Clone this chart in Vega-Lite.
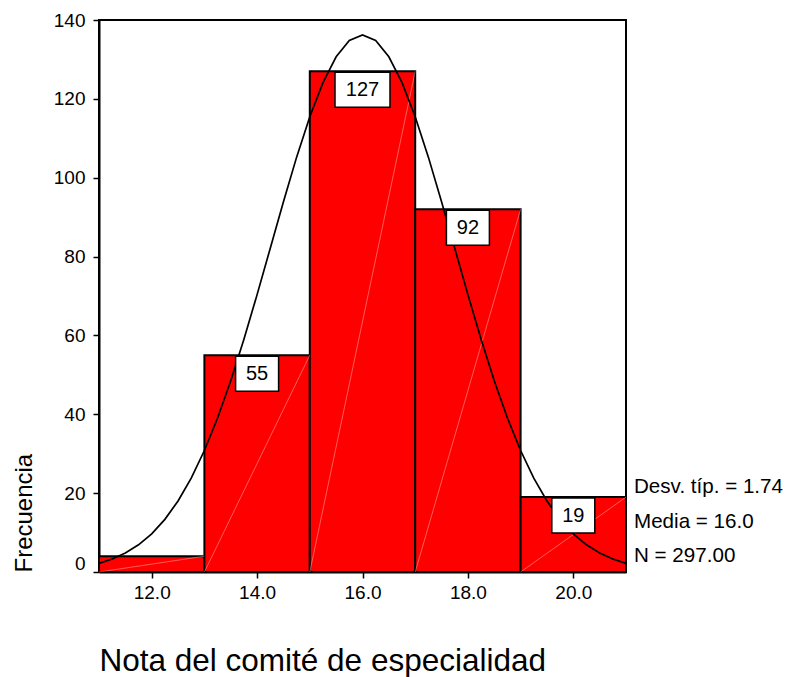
{
  "$schema": "https://vega.github.io/schema/vega-lite/v6.json",
  "width": 527,
  "height": 552,
  "autosize": "none",
  "padding": {"left": 99, "top": 20, "right": 161, "bottom": 105},
  "background": "white",
  "config": {
    "font": "Liberation Sans",
    "view": {"stroke": "black", "strokeWidth": 2},
    "axis": {
      "grid": false,
      "domainColor": "black",
      "domainWidth": 2,
      "tickColor": "black",
      "tickWidth": 1.5,
      "tickSize": 6,
      "labelColor": "black",
      "titleColor": "black",
      "labelFont": "Liberation Sans",
      "titleFont": "Liberation Sans",
      "labelFontSize": 19,
      "titleFontWeight": "normal"
    }
  },
  "datasets": {
    "hist": [
      {"lo": 11, "hi": 13, "nota": 12, "frecuencia": 4},
      {"lo": 13, "hi": 15, "nota": 14, "frecuencia": 55},
      {"lo": 15, "hi": 17, "nota": 16, "frecuencia": 127},
      {"lo": 17, "hi": 19, "nota": 18, "frecuencia": 92},
      {"lo": 19, "hi": 21, "nota": 20, "frecuencia": 19}
    ],
    "normal": [
      {"x": 11, "y": 2.19}, {"x": 11.25, "y": 3.28}, {"x": 11.5, "y": 4.81}, {"x": 11.75, "y": 6.9},
      {"x": 12, "y": 9.69}, {"x": 12.25, "y": 13.35}, {"x": 12.5, "y": 18.01}, {"x": 12.75, "y": 23.8},
      {"x": 13, "y": 30.81}, {"x": 13.25, "y": 39.06}, {"x": 13.5, "y": 48.51}, {"x": 13.75, "y": 59.02},
      {"x": 14, "y": 70.35}, {"x": 14.25, "y": 82.13}, {"x": 14.5, "y": 93.92}, {"x": 14.75, "y": 105.22},
      {"x": 15, "y": 115.46}, {"x": 15.25, "y": 124.11}, {"x": 15.5, "y": 130.68}, {"x": 15.75, "y": 134.79},
      {"x": 16, "y": 136.19},
      {"x": 16.25, "y": 134.79}, {"x": 16.5, "y": 130.68}, {"x": 16.75, "y": 124.11}, {"x": 17, "y": 115.46},
      {"x": 17.25, "y": 105.22}, {"x": 17.5, "y": 93.92}, {"x": 17.75, "y": 82.13}, {"x": 18, "y": 70.35},
      {"x": 18.25, "y": 59.02}, {"x": 18.5, "y": 48.51}, {"x": 18.75, "y": 39.06}, {"x": 19, "y": 30.81},
      {"x": 19.25, "y": 23.8}, {"x": 19.5, "y": 18.01}, {"x": 19.75, "y": 13.35}, {"x": 20, "y": 9.69},
      {"x": 20.25, "y": 6.9}, {"x": 20.5, "y": 4.81}, {"x": 20.75, "y": 3.28}, {"x": 21, "y": 2.19}
    ]
  },
  "layer": [
    {
      "data": {"name": "hist"},
      "mark": {"type": "rect", "fill": "#ff0000", "stroke": "black", "strokeWidth": 2},
      "encoding": {
        "x": {
          "field": "lo", "type": "quantitative",
          "scale": {"domain": [11, 21], "nice": false, "zero": false},
          "axis": {
            "values": [12, 14, 16, 18, 20], "format": ".1f",
            "title": "Nota del comité de especialidad",
            "titleFontSize": 31.5, "titleAnchor": "start", "titlePadding": 43,
            "labelPadding": 5, "labelFontSize": 19
          }
        },
        "x2": {"field": "hi"},
        "y": {
          "field": "frecuencia", "type": "quantitative",
          "scale": {"domain": [0, 140], "nice": false},
          "axis": {
            "values": [0, 20, 40, 60, 80, 100, 120, 140],
            "title": "Frecuencia",
            "titleFontSize": 24, "titleAnchor": "start", "titlePadding": 17,
            "labelPadding": 8, "labelFontSize": 19,
            "labelOffset": {"condition": {"test": "datum.value === 0", "value": -9}, "value": 0}
          }
        },
        "y2": {"datum": 0}
      }
    },
    {
      "data": {"name": "hist"},
      "mark": {"type": "rule", "stroke": "white", "strokeWidth": 0.8, "opacity": 0.45},
      "encoding": {
        "x": {"field": "hi", "type": "quantitative"},
        "x2": {"field": "lo"},
        "y": {"field": "frecuencia", "type": "quantitative"},
        "y2": {"datum": 0}
      }
    },
    {
      "data": {"name": "normal"},
      "mark": {"type": "line", "color": "black", "strokeWidth": 1.7},
      "encoding": {
        "x": {"field": "x", "type": "quantitative"},
        "y": {"field": "y", "type": "quantitative"}
      }
    },
    {
      "data": {"name": "hist"},
      "transform": [{"filter": "datum.frecuencia >= 100"}],
      "mark": {"type": "point", "shape": "M-1,-0.636L1,-0.636L1,0.636L-1,0.636Z", "size": 3025, "filled": true, "fill": "white", "stroke": "black", "strokeWidth": 1.5, "opacity": 1, "yOffset": 18.5},
      "encoding": {
        "x": {"field": "nota", "type": "quantitative"},
        "y": {"field": "frecuencia", "type": "quantitative"}
      }
    },
    {
      "data": {"name": "hist"},
      "transform": [{"filter": "datum.frecuencia >= 10 && datum.frecuencia < 100"}],
      "mark": {"type": "point", "shape": "M-1,-0.814L1,-0.814L1,0.814L-1,0.814Z", "size": 1849, "filled": true, "fill": "white", "stroke": "black", "strokeWidth": 1.5, "opacity": 1, "yOffset": 18.5},
      "encoding": {
        "x": {"field": "nota", "type": "quantitative"},
        "y": {"field": "frecuencia", "type": "quantitative"}
      }
    },
    {
      "data": {"name": "hist"},
      "transform": [{"filter": "datum.frecuencia >= 10"}],
      "mark": {"type": "text", "fontSize": 20, "color": "black", "baseline": "middle", "align": "center", "yOffset": 19},
      "encoding": {
        "x": {"field": "nota", "type": "quantitative"},
        "y": {"field": "frecuencia", "type": "quantitative"},
        "text": {"field": "frecuencia", "type": "quantitative"}
      }
    },
    {
      "data": {"values": [{"stats": "Desv. típ. = 1.74\nMedia = 16.0\nN = 297.00"}]},
      "mark": {"type": "text", "fontSize": 20.6, "color": "black", "align": "left", "baseline": "alphabetic", "dx": 8, "lineBreak": "\n", "lineHeight": 34.5},
      "encoding": {
        "x": {"datum": 21, "type": "quantitative"},
        "y": {"datum": 20, "type": "quantitative"},
        "text": {"field": "stats", "type": "nominal"}
      }
    }
  ]
}
